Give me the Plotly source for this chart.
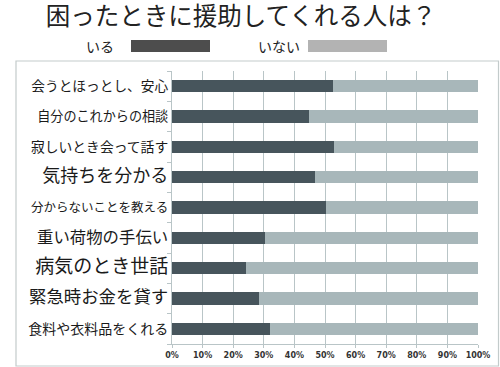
import plotly.graph_objects as go

categories = ["会うとほっとし、安心", "自分のこれからの相談", "寂しいとき会って話す", "気持ちを分かる",
              "分からないことを教える", "重い荷物の手伝い", "病気のとき世話", "緊急時お金を貸す",
              "食料や衣料品をくれる"]
label_sizes = [13.7, 13.1, 13.8, 18, 12.5, 16.4, 19, 17.4, 14]
iru = [52.6, 44.8, 53.0, 46.7, 50.3, 30.5, 24.3, 28.4, 31.9]
inai = [47.4, 55.2, 47.0, 53.3, 49.7, 69.5, 75.7, 71.6, 68.1]
x_ticks = [0, 10, 20, 30, 40, 50, 60, 70, 80, 90, 100]
x_ticklabels = [f"{v}%" for v in x_ticks]

DARK = "#47555c"
LIGHT = "#a8b7ba"
FONT = "Noto Sans CJK JP"

fig = go.Figure()
fig.add_trace(go.Bar(y=categories, x=iru, orientation="h", name="いる",
                     marker=dict(color=DARK, line=dict(width=0))))
fig.add_trace(go.Bar(y=categories, x=inai, orientation="h", name="いない",
                     marker=dict(color=LIGHT, line=dict(width=0))))

W, H = 500, 367
# plot area in page pixels: x 172..478, y 71..344
PX0, PX1, PY0, PY1 = 172, 478, 71, 344
L, R = PX0, W - PX1
T, B = PY0, H - PY1
pw, ph = PX1 - PX0, PY1 - PY0

def px(x):
    return (x - PX0) / pw

def py(y):
    return (PY1 - y) / ph

ticktext = [f'<span style="font-size:{s}px">{c}</span>' for c, s in zip(categories, label_sizes)]

fig.update_layout(
    width=W, height=H,
    margin=dict(l=L, r=R, t=T, b=B, autoexpand=False),
    barmode="stack",
    bargap=0.6,
    showlegend=False,
    plot_bgcolor="white",
    paper_bgcolor="white",
    font=dict(family=FONT, color="#222222"),
    title=dict(text="困ったときに援助してくれる人は？", x=241 / W, xanchor="center",
               y=1 - 16.5 / H, yanchor="middle",
               font=dict(family=FONT, size=24.5, color="#222222")),
    xaxis=dict(range=[0, 100], tickvals=x_ticks, ticktext=x_ticklabels,
               showgrid=True, gridcolor="#b9c5c7", gridwidth=1,
               showline=True, linecolor="#b9c5c7", linewidth=1,
               ticks="outside", ticklen=3, tickcolor="#b9c5c7",
               zeroline=False,
               tickfont=dict(family="DejaVu Sans", size=8, color="#333333", weight="bold")),
    yaxis=dict(autorange="reversed", tickmode="array", tickvals=categories, ticktext=ticktext,
               showline=True, linecolor="#b9c5c7", linewidth=1,
               ticks="outside", ticklen=4, tickcolor="#b9c5c7", tickson="boundaries",
               showgrid=False,
               tickfont=dict(family=FONT, size=14, color="#1a1a1a")),
    shapes=[
        dict(type="rect", xref="paper", yref="paper",
             x0=px(16), x1=px(498.5), y0=py(366), y1=py(61),
             line=dict(color="#c3cbcb", width=1.2), fillcolor="rgba(0,0,0,0)", layer="below"),
        dict(type="rect", xref="paper", yref="paper",
             x0=px(131), x1=px(210), y0=py(52), y1=py(40),
             line=dict(width=0), fillcolor="#4d4d4d"),
        dict(type="rect", xref="paper", yref="paper",
             x0=px(308), x1=px(387), y0=py(52), y1=py(40),
             line=dict(width=0), fillcolor="#b3b3b3"),
    ],
    annotations=[
        dict(text="いる", xref="paper", yref="paper", x=px(100), y=py(45.5),
             xanchor="center", yanchor="middle", showarrow=False,
             font=dict(family=FONT, size=14, color="#222222")),
        dict(text="いない", xref="paper", yref="paper", x=px(279), y=py(45.5),
             xanchor="center", yanchor="middle", showarrow=False,
             font=dict(family=FONT, size=14, color="#222222")),
    ],
)

fig.write_html("out.html", config={"displayModeBar": False},
               post_script="document.body.style.margin='0';")
